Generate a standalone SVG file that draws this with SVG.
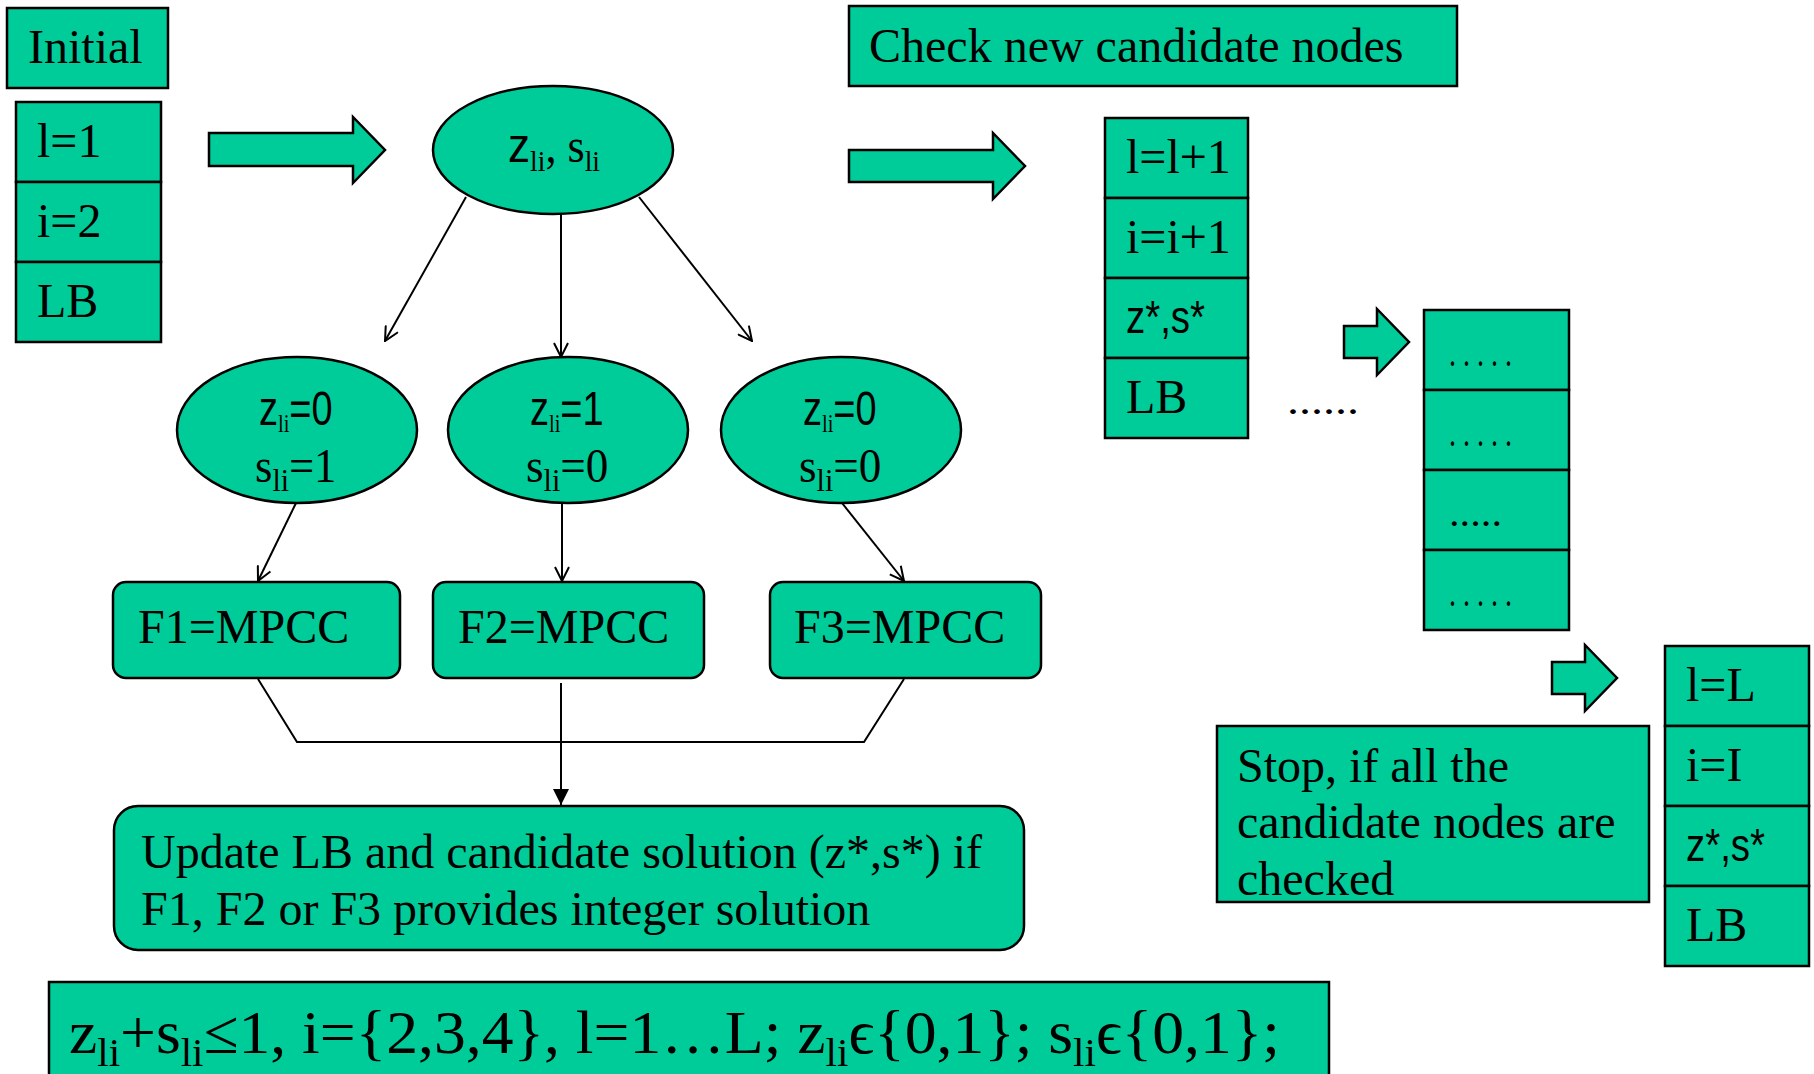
<svg xmlns="http://www.w3.org/2000/svg" width="1814" height="1074" viewBox="0 0 1814 1074">
<style>
.box{fill:#00CC99;stroke:#000;stroke-width:2.5}
.ln{stroke:#000;stroke-width:2;fill:none}
.t{font-family:"Liberation Serif","Times New Roman",serif;font-size:48px;fill:#000}
.s{font-family:"Liberation Sans",Arial,sans-serif}
</style>
<defs>
<marker id="open" viewBox="0 0 16 16" refX="15" refY="8" markerWidth="16" markerHeight="16" markerUnits="userSpaceOnUse" orient="auto">
<path d="M1,1 L15,8 L1,15" fill="none" stroke="#000" stroke-width="2"/>
</marker>
<marker id="filled" viewBox="0 0 16 16" refX="16" refY="8" markerWidth="16" markerHeight="16" markerUnits="userSpaceOnUse" orient="auto">
<path d="M0,0 L16,8 L0,16 z" fill="#000"/>
</marker>
</defs>
<rect width="1814" height="1074" fill="#fff"/>

<g id="initial-label">
<rect class="box" x="7" y="8" width="161" height="80"/>
<text class="t" x="28" y="63">Initial</text>
</g>
<g id="initial-stack">
<rect class="box" x="16" y="102" width="145" height="80"/>
<rect class="box" x="16" y="182" width="145" height="80"/>
<rect class="box" x="16" y="262" width="145" height="80"/>
<text class="t" x="37" y="157">l=1</text>
<text class="t" x="37" y="237">i=2</text>
<text class="t" x="37" y="317">LB</text>
</g>

<g id="block-arrows">
<polygon class="box" points="209,133 353,133 353,117 385,150 353,183 353,166 209,166"/>
<polygon class="box" points="849,150 993,150 993,133 1025,166 993,199 993,182 849,182"/>
<polygon class="box" points="1344,326 1377,326 1377,309 1409,342 1377,375 1377,358 1344,358"/>
<polygon class="box" points="1552,662 1585,662 1585,645 1617,678 1585,711 1585,694 1552,694"/>
</g>

<g id="root-node">
<ellipse class="box" cx="553" cy="150" rx="120" ry="64"/>
<text class="t" transform="translate(508 162) scale(0.92 1)"><tspan class="s">z</tspan><tspan font-size="30" dy="9">li</tspan><tspan dy="-9">, s</tspan><tspan font-size="30" dy="9">li</tspan></text>
</g>

<g id="node-z0-s1">
<ellipse class="box" cx="297" cy="430" rx="120" ry="73"/>
<text class="t" transform="translate(259 425) scale(0.79 1)"><tspan class="s">z</tspan><tspan font-size="26" dy="7">li</tspan><tspan class="s" dy="-7">=0</tspan></text>
<text class="t" transform="translate(255 482) scale(0.93 1)">s<tspan font-size="32" dy="9">li</tspan><tspan dy="-9">=1</tspan></text>
</g>
<g id="node-z1-s0">
<ellipse class="box" cx="568" cy="430" rx="120" ry="73"/>
<text class="t" transform="translate(530 425) scale(0.79 1)"><tspan class="s">z</tspan><tspan font-size="26" dy="7">li</tspan><tspan class="s" dy="-7">=1</tspan></text>
<text class="t" transform="translate(526 482) scale(0.94 1)">s<tspan font-size="32" dy="9">li</tspan><tspan dy="-9">=0</tspan></text>
</g>
<g id="node-z0-s0">
<ellipse class="box" cx="841" cy="430" rx="120" ry="73"/>
<text class="t" transform="translate(803 425) scale(0.79 1)"><tspan class="s">z</tspan><tspan font-size="26" dy="7">li</tspan><tspan class="s" dy="-7">=0</tspan></text>
<text class="t" transform="translate(799 482) scale(0.94 1)">s<tspan font-size="32" dy="9">li</tspan><tspan dy="-9">=0</tspan></text>
</g>

<g id="f1">
<rect class="box" x="113" y="582" width="287" height="96" rx="13"/>
<text class="t" x="138" y="643">F1=MPCC</text>
</g>
<g id="f2">
<rect class="box" x="433" y="582" width="271" height="96" rx="13"/>
<text class="t" x="458" y="643">F2=MPCC</text>
</g>
<g id="f3">
<rect class="box" x="770" y="582" width="271" height="96" rx="13"/>
<text class="t" x="794" y="643">F3=MPCC</text>
</g>

<g id="update">
<rect class="box" x="114" y="806" width="910" height="144" rx="24"/>
<text class="t" x="141" y="868">Update LB and candidate solution (z*,s*) if</text>
<text class="t" x="141" y="925">F1, F2 or F3 provides integer solution</text>
</g>

<g id="constraint">
<rect class="box" x="49" y="982" width="1280" height="120"/>
<text class="t" x="69" y="1053" style="font-size:62px" textLength="1211" lengthAdjust="spacingAndGlyphs">z<tspan font-size="40" dy="13">li</tspan><tspan dy="-13">+s</tspan><tspan font-size="40" dy="13">li</tspan><tspan dy="-13">≤1, i={2,3,4}, l=1…L; z</tspan><tspan font-size="40" dy="13">li</tspan><tspan dy="-13">ϵ{0,1}; s</tspan><tspan font-size="40" dy="13">li</tspan><tspan dy="-13">ϵ{0,1};</tspan></text>
</g>

<g id="check-label">
<rect class="box" x="849" y="6" width="608" height="80"/>
<text class="t" x="869" y="62">Check new candidate nodes</text>
</g>
<g id="next-stack">
<rect class="box" x="1105" y="118" width="143" height="80"/>
<rect class="box" x="1105" y="198" width="143" height="80"/>
<rect class="box" x="1105" y="278" width="143" height="80"/>
<rect class="box" x="1105" y="358" width="143" height="80"/>
<text class="t" x="1126" y="173">l=l+1</text>
<text class="t" x="1126" y="253">i=i+1</text>
<text class="t s" x="1126" y="333" style="font-size:46px" textLength="79" lengthAdjust="spacingAndGlyphs">z*,s*</text>
<text class="t" x="1126" y="413">LB</text>
</g>
<g id="gap-dots">
<text class="t" x="1287" y="414" style="font-size:40px" textLength="72" lengthAdjust="spacingAndGlyphs">......</text>
</g>
<g id="dots-stack">
<rect class="box" x="1424" y="310" width="145" height="80"/>
<rect class="box" x="1424" y="390" width="145" height="80"/>
<rect class="box" x="1424" y="470" width="145" height="80"/>
<rect class="box" x="1424" y="550" width="145" height="80"/>
<text class="t" x="1449" y="366" style="font-size:40px" textLength="63" lengthAdjust="spacingAndGlyphs">. . . . .</text>
<text class="t" x="1449" y="446" style="font-size:40px" textLength="63" lengthAdjust="spacingAndGlyphs">. . . . .</text>
<text class="t" x="1449" y="526" style="font-size:40px" textLength="53" lengthAdjust="spacingAndGlyphs">.....</text>
<text class="t" x="1449" y="606" style="font-size:40px" textLength="63" lengthAdjust="spacingAndGlyphs">. . . . .</text>
</g>
<g id="stop-label">
<rect class="box" x="1217" y="726" width="432" height="176"/>
<text class="t" x="1237" y="782">Stop, if all the</text>
<text class="t" x="1237" y="838">candidate nodes are</text>
<text class="t" x="1237" y="895">checked</text>
</g>
<g id="final-stack">
<rect class="box" x="1665" y="646" width="144" height="80"/>
<rect class="box" x="1665" y="726" width="144" height="80"/>
<rect class="box" x="1665" y="806" width="144" height="80"/>
<rect class="box" x="1665" y="886" width="144" height="80"/>
<text class="t" x="1686" y="701">l=L</text>
<text class="t" x="1686" y="781">i=I</text>
<text class="t s" x="1686" y="861" style="font-size:46px" textLength="79" lengthAdjust="spacingAndGlyphs">z*,s*</text>
<text class="t" x="1686" y="941">LB</text>
</g>

<g id="connectors">
<line class="ln" x1="466" y1="197" x2="385" y2="341" marker-end="url(#open)"/>
<line class="ln" x1="561" y1="214" x2="561" y2="357" marker-end="url(#open)"/>
<line class="ln" x1="639" y1="197" x2="752" y2="341" marker-end="url(#open)"/>
<line class="ln" x1="296" y1="503" x2="258" y2="581" marker-end="url(#open)"/>
<line class="ln" x1="562" y1="503" x2="562" y2="581" marker-end="url(#open)"/>
<line class="ln" x1="842" y1="503" x2="904" y2="581" marker-end="url(#open)"/>
<polyline class="ln" points="258,679 297,742 864,742 904,679"/>
<line class="ln" x1="561" y1="683" x2="561" y2="805" marker-end="url(#filled)"/>
</g>
</svg>
